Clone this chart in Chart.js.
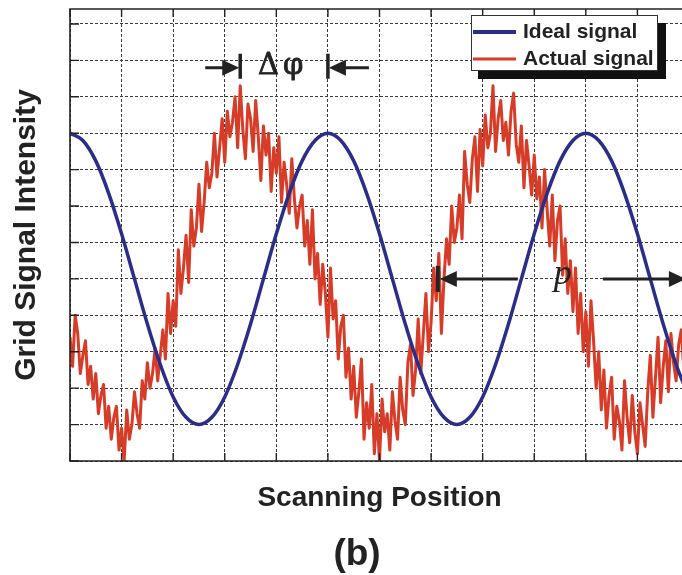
<!DOCTYPE html>
<html>
<head>
<meta charset="utf-8">
<script src="https://cdn.jsdelivr.net/npm/chart.js@4.4.1/dist/chart.umd.min.js"></script>
<style>
  html, body { margin: 0; padding: 0; background: #fff; overflow: hidden; }
  #wrap { width: 690px; height: 575px; }
</style>
</head>
<body>
<div id="wrap"><canvas id="c" width="690" height="575"></canvas></div>
<script>
// ideal signal, read every 0.25 grid unit
var blueX = [0, 0.25, 0.5, 0.75, 1, 1.25, 1.5, 1.75, 2, 2.25, 2.5, 2.75, 3, 3.25, 3.5, 3.75, 4, 4.25, 4.5, 4.75,
             5, 5.25, 5.5, 5.75, 6, 6.25, 6.5, 6.75, 7, 7.25, 7.5, 7.75, 8, 8.25, 8.5, 8.75, 9, 9.25, 9.5, 9.75,
             10, 10.25, 10.5, 10.75, 11, 11.25, 11.5, 11.75, 12];
var blueY = [9.00, 8.80, 8.24, 7.35, 6.24, 5.00, 3.76, 2.65, 1.76, 1.20, 1.00, 1.20, 1.76, 2.65, 3.76, 5.00, 6.24, 7.35, 8.24, 8.80,
             9.00, 8.80, 8.24, 7.35, 6.24, 5.00, 3.76, 2.65, 1.76, 1.20, 1.00, 1.20, 1.76, 2.65, 3.76, 5.00, 6.24, 7.35, 8.24, 8.80,
             9.00, 8.80, 8.24, 7.35, 6.24, 5.00, 3.76, 2.65, 1.76];

// actual (noisy) signal, one sample every 0.05 grid unit starting at 0
var redStep = 0.05;
var redY = [
  3.4, 2.6, 4.0, 3.5, 2.4, 2.9, 3.3, 2.1, 2.6, 1.7,
  2.4, 1.3, 1.8, 2.1, 0.9, 1.5, 0.6, 1.2, 1.5, 0.3,
  0.9, 0.0, 1.4, 0.6, 1.0, 1.9, 1.3, 0.9, 2.2, 1.7,
  2.7, 2.0, 2.4, 3.1, 2.2, 2.9, 3.6, 2.8, 4.6, 3.5,
  4.4, 3.7, 5.8, 4.6, 5.3, 6.2, 4.9, 6.9, 5.9, 6.4,
  7.6, 6.3, 7.1, 8.2, 7.5, 7.9, 9.0, 7.8, 8.6, 9.4,
  8.2, 9.6, 8.9, 9.3, 10.0, 8.6, 10.3, 9.1, 8.3, 9.8,
  9.4, 8.5, 9.9, 8.9, 7.7, 9.2, 8.4, 9.0, 7.4, 8.6,
  7.9, 8.9, 7.1, 8.2, 7.6, 6.8, 8.3, 7.2, 6.4, 7.0,
  7.3, 5.9, 6.6, 5.4, 6.9, 5.0, 5.7, 4.3, 5.4, 4.6,
  3.4, 5.3, 3.9, 4.4, 2.8, 3.7, 4.0, 2.3, 3.1, 1.7,
  2.6, 1.2, 1.9, 2.8, 0.6, 1.6, 0.9, 2.1, 0.2, 1.3,
  0.0, 1.7, 0.8, 1.3, 0.3, 1.9, 1.1, 0.6, 2.3, 1.4,
  1.0, 2.7, 3.2, 1.8, 2.5, 3.9, 2.4, 3.5, 4.6, 3.0,
  3.8, 5.3, 4.4, 5.7, 3.5, 5.0, 6.1, 5.4, 7.0, 6.0,
  6.4, 7.3, 6.1, 8.5, 7.6, 7.1, 8.3, 8.9, 7.4, 9.1,
  8.1, 9.5, 8.6, 9.0, 10.3, 8.5, 9.4, 9.9, 8.8, 9.3,
  8.4, 9.6, 10.1, 8.7, 8.2, 9.2, 7.5, 8.8, 8.1, 7.3,
  8.4, 7.2, 7.8, 6.4, 8.0, 6.9, 5.9, 7.3, 5.5, 6.6,
  7.0, 5.1, 6.1, 4.6, 5.5, 4.1, 5.3, 3.5, 4.6, 3.0,
  4.1, 2.6, 4.4, 3.3, 2.0, 3.0, 1.4, 2.5, 0.9, 1.8,
  2.3, 0.6, 1.5, 1.1, 0.3, 2.2, 1.2, 0.5, 1.8, 0.8,
  0.2, 1.6, 1.0, 0.4, 1.9, 2.9, 1.2, 2.3, 3.4, 1.6,
  2.6, 3.3, 1.9, 3.5, 2.7, 2.2, 3.2, 3.6, 2.5, 3.1
];

// annotation positions in data units
var dphiLeft = 3.3, dphiRight = 5.0, dphiLevel = 10.8;
var pLeft = 7.13, pRight = 11.94, pLevel = 5;

var seriesNames = ['Ideal signal', 'Actual signal'];
var BLUE = '#2b2e88', RED = '#d63c27', INK = '#222';

var blueData = blueX.map(function (x, i) { return {x: x, y: blueY[i]}; });
var redData = redY.map(function (y, i) { return {x: +(i * redStep).toFixed(2), y: y}; });

var sans = '"Liberation Sans", Arial, sans-serif';
var serif = '"DejaVu Serif", "Liberation Serif", serif';

function arrowHead(ctx, tipX, y, dir) {
  // dir = -1 points left, +1 points right
  ctx.beginPath();
  ctx.moveTo(tipX, y);
  ctx.lineTo(tipX - dir * 17, y - 8);
  ctx.lineTo(tipX - dir * 17, y + 8);
  ctx.closePath();
  ctx.fill();
}

var deco = {
  id: 'deco',
  afterDatasetsDraw: function (chart) {
    var ctx = chart.ctx, ca = chart.chartArea;
    var xs = chart.scales.x, ys = chart.scales.y;
    ctx.save();

    // frame
    ctx.strokeStyle = '#222';
    ctx.lineWidth = 1.6;
    ctx.beginPath();
    ctx.moveTo(ca.right + 2, ca.top);
    ctx.lineTo(ca.left, ca.top);
    ctx.lineTo(ca.left, ca.bottom);
    ctx.lineTo(ca.right + 2, ca.bottom);
    ctx.stroke();

    // inward ticks
    ctx.lineWidth = 1.4;
    ctx.beginPath();
    xs.ticks.forEach(function (t) {
      var px = xs.getPixelForValue(t.value);
      ctx.moveTo(px, ca.bottom); ctx.lineTo(px, ca.bottom - 8);
      ctx.moveTo(px, ca.top); ctx.lineTo(px, ca.top + 8);
    });
    ys.ticks.forEach(function (t) {
      var py = ys.getPixelForValue(t.value);
      ctx.moveTo(ca.left, py); ctx.lineTo(ca.left + 9, py);
    });
    ctx.stroke();

    ctx.fillStyle = INK;
    ctx.strokeStyle = INK;

    // delta phi
    var y1 = ys.getPixelForValue(dphiLevel);
    var a = xs.getPixelForValue(dphiLeft), b = xs.getPixelForValue(dphiRight);
    ctx.lineWidth = 3;
    ctx.beginPath();
    ctx.moveTo(a - 35, y1); ctx.lineTo(a - 15, y1);
    ctx.moveTo(b + 15, y1); ctx.lineTo(b + 41, y1);
    ctx.stroke();
    arrowHead(ctx, a - 1, y1, 1);
    arrowHead(ctx, b + 1, y1, -1);
    ctx.lineWidth = 3.5;
    ctx.beginPath();
    ctx.moveTo(a, y1 - 14); ctx.lineTo(a, y1 + 11);
    ctx.moveTo(b, y1 - 14); ctx.lineTo(b, y1 + 11);
    ctx.stroke();
    ctx.font = '29px ' + serif;
    ctx.textAlign = 'left';
    ctx.textBaseline = 'alphabetic';
    var mid = (a + b) / 2;
    ctx.lineWidth = 0.8;
    ctx.fillText('\u0394', mid - 26, y1 + 6);
    ctx.strokeText('\u0394', mid - 26, y1 + 6);
    ctx.fillText('\u03c6', mid - 1, y1 + 6);
    ctx.strokeText('\u03c6', mid - 1, y1 + 6);

    // period p
    var y2 = ys.getPixelForValue(pLevel);
    var c = xs.getPixelForValue(pLeft), d = xs.getPixelForValue(pRight);
    ctx.lineWidth = 3;
    ctx.beginPath();
    ctx.moveTo(c + 15, y2); ctx.lineTo(c + 80, y2);
    ctx.moveTo(d - 83, y2); ctx.lineTo(d - 15, y2);
    ctx.stroke();
    arrowHead(ctx, c + 2, y2, -1);
    arrowHead(ctx, d, y2, 1);
    ctx.lineWidth = 4;
    ctx.beginPath();
    ctx.moveTo(c, y2 - 13); ctx.lineTo(c, y2 + 13);
    ctx.stroke();
    ctx.font = 'italic 36px "Liberation Serif", "DejaVu Serif", serif';
    ctx.textAlign = 'center';
    ctx.fillText('p', (c + d) / 2 + 1, y2 + 5);

    // legend box with drop shadow
    var lx = ca.right - 218, ly = ca.top + 6, lw = 187, lh = 56;
    ctx.fillStyle = '#111';
    ctx.fillRect(lx + 7, ly + 8, lw + 1, lh);
    ctx.fillStyle = '#fff';
    ctx.fillRect(lx, ly, lw, lh);
    ctx.strokeStyle = '#333';
    ctx.lineWidth = 1;
    ctx.strokeRect(lx + 0.5, ly + 0.5, lw - 1, lh - 1);
    [BLUE, RED].forEach(function (col, i) {
      var yy = ly + 17 + i * 27;
      ctx.strokeStyle = col;
      ctx.lineWidth = i === 0 ? 4 : 3;
      ctx.beginPath();
      ctx.moveTo(lx + 2, yy); ctx.lineTo(lx + 45, yy);
      ctx.stroke();
      ctx.fillStyle = INK;
      ctx.font = 'bold 21px ' + sans;
      ctx.textAlign = 'left';
      ctx.fillText(seriesNames[i], lx + 52, yy + 6);
    });

    // panel label
    ctx.font = 'bold 37px ' + sans;
    ctx.textAlign = 'center';
    ctx.fillStyle = INK;
    ctx.fillText('(b)', 357, 565);
    ctx.restore();
  }
};

var gridOpts = {color: '#3a3a3a', lineWidth: 1, drawTicks: false};

new Chart(document.getElementById('c'), {
  type: 'line',
  data: {
    datasets: [
      {label: seriesNames[0], data: blueData, borderColor: BLUE, borderWidth: 3.5,
       pointRadius: 0, cubicInterpolationMode: 'monotone', fill: false},
      {label: seriesNames[1], data: redData, borderColor: RED, borderWidth: 3,
       pointRadius: 0, tension: 0, borderJoinStyle: 'round', fill: false}
    ]
  },
  options: {
    responsive: false,
    animation: false,
    devicePixelRatio: 1,
    layout: {padding: {top: 9, right: 1, left: 0, bottom: 60}},
    plugins: {legend: {display: false}, tooltip: {enabled: false}},
    scales: {
      x: {
        type: 'linear', min: 0, max: 12,
        ticks: {display: false, stepSize: 1},
        grid: gridOpts,
        border: {display: false, dash: [3, 2]},
        title: {display: true, text: 'Scanning Position', color: INK,
                font: {family: sans, size: 28, weight: 'bold'}, padding: 0},
        afterFit: function (s) { s.height = 54; }
      },
      y: {
        type: 'linear', min: 0, max: 12.41,
        ticks: {display: false, stepSize: 1, includeBounds: false},
        grid: gridOpts,
        border: {display: false, dash: [3, 2]},
        title: {display: true, text: 'Grid Signal Intensity', color: INK,
                font: {family: sans, size: 30, weight: 'bold'}, padding: {top: 9, bottom: 0}},
        afterFit: function (s) { s.width = 70; }
      }
    }
  },
  plugins: [deco]
});
</script>
</body>
</html>
